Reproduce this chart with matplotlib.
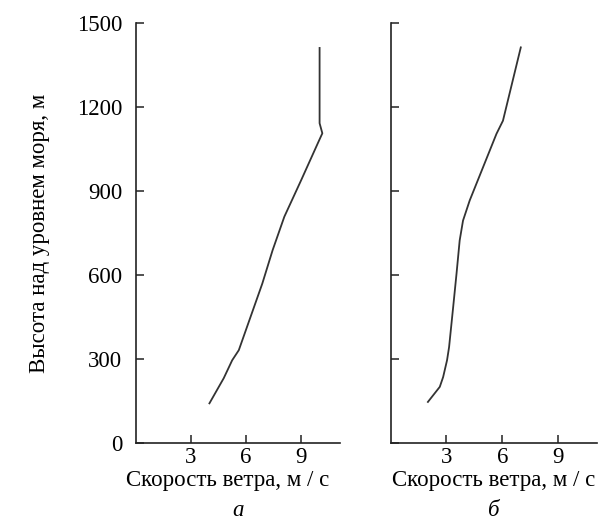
import matplotlib.pyplot as plt

# wind speed profiles (m/s) vs height above sea level (m)
speed_a = [4.0, 4.78, 5.24, 5.6, 6.24, 6.88, 7.44, 8.08, 9.0, 9.9, 10.15, 10.0, 10.0]
height_a = [142, 232, 296, 332, 451, 570, 689, 809, 940, 1071, 1107, 1143, 1412]

speed_b = [2.0, 2.64, 2.82, 3.03, 3.14, 3.36, 3.54, 3.71, 3.89, 4.25, 4.97, 5.69, 6.04, 7.0]
height_b = [147, 201, 236, 296, 343, 486, 605, 724, 795, 867, 986, 1105, 1152, 1414]

yticks = [0, 300, 600, 900, 1200, 1500]
xticks = [3, 6, 9]
xlabel = "Скорость ветра, м / с"
ylabel = "Высота над уровнем моря, м"
panel_names = ["а", "б"]

plt.rcParams['font.family'] = ['Liberation Serif', 'DejaVu Serif']
plt.rcParams['font.size'] = 16.5

fig = plt.figure(figsize=(6.03, 5.30), dpi=100)
ax1 = fig.add_axes([0.2255, 0.164, 0.338, 0.792])
ax2 = fig.add_axes([0.648, 0.164, 0.342, 0.792])

for ax, xs, ys, name in [(ax1, speed_a, height_a, panel_names[0]),
                         (ax2, speed_b, height_b, panel_names[1])]:
    ax.plot(xs, ys, color='#333333', lw=1.3)
    ax.set_xlim(0, 11.1)
    ax.set_ylim(0, 1500)
    ax.set_xticks(xticks)
    ax.set_yticks(yticks)
    ax.spines['top'].set_visible(False)
    ax.spines['right'].set_visible(False)
    for s in ['left', 'bottom']:
        ax.spines[s].set_linewidth(1.2)
        ax.spines[s].set_color('#222222')
    ax.tick_params(direction='in', length=6, width=1.1, color='#222222')
    ax.tick_params(axis='x', pad=3)
    ax.tick_params(axis='y', pad=10)
    ax.set_xlabel(xlabel, labelpad=1)
    ax.text(0.5, -0.16, name, transform=ax.transAxes, ha='center', va='center',
            style='italic')

ax1.xaxis.set_label_coords(0.45, -0.065, transform=ax1.transAxes)
ax1.xaxis.label.set_va('top')
ax1.set_ylabel(ylabel, labelpad=19)
ax2.tick_params(axis='y', labelleft=False)

fig.savefig("out.png", dpi=100)
